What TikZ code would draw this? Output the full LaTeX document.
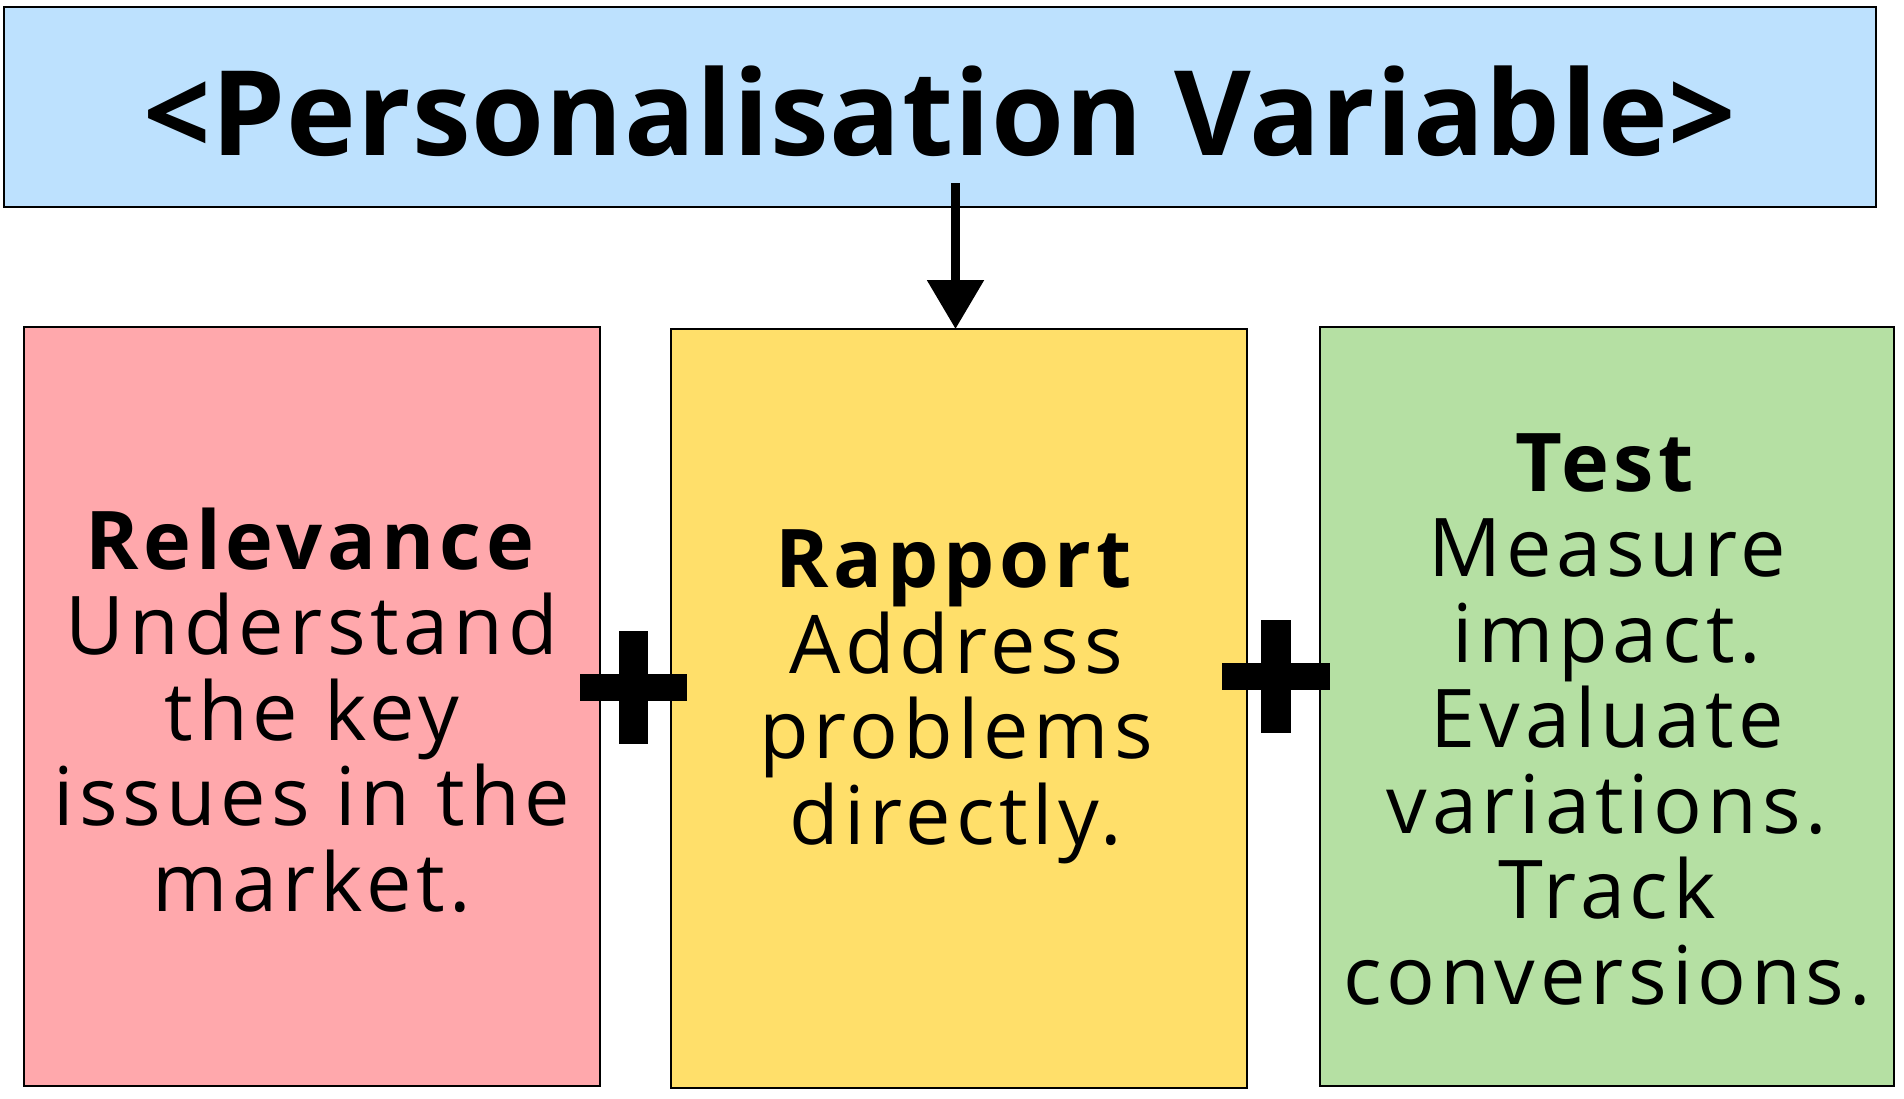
\documentclass[tikz,border=0pt]{standalone}
\usepackage{fontspec}
\setmainfont[LetterSpace=6]{Open Sans}
\newfontfamily\titlefont[LetterSpace=0.8]{Open Sans}
\usetikzlibrary{arrows.meta}
\definecolor{topblue}{RGB}{189,225,254}
\definecolor{relred}{RGB}{255,168,172}
\definecolor{rapyel}{RGB}{255,223,106}
\definecolor{testgrn}{RGB}{181,224,163}
\begin{document}
\begin{tikzpicture}[x=1pt,y=-1pt,
  panel/.style={draw=black,line width=2pt,inner sep=0pt,outer sep=0pt},
  bodytext/.style={align=center,inner sep=0pt,font=\fontsize{81}{85.5}\selectfont},
  plusbar/.style={fill=black}]
\useasboundingbox (0,0) rectangle (1904,1098);
% boxes
\node[panel,fill=topblue,minimum width=1872pt,minimum height=200pt] (top) at (940,107) {};
\node[panel,fill=relred,minimum width=576pt,minimum height=759pt] (rel) at (312,706.5) {};
\node[panel,fill=rapyel,minimum width=576pt,minimum height=759pt] (rap) at (959,708.5) {};
\node[panel,fill=testgrn,minimum width=574pt,minimum height=759pt] (tst) at (1607,706.5) {};
% texts
\node[anchor=base,inner sep=0pt,font=\titlefont\fontsize{118}{130}\selectfont\bfseries] (title) at (940,155) {<Personalisation Variable>};
\node[bodytext] (reltext) at (312,710) {\textbf{Relevance}\\Understand\\the key\\issues in the\\market.};
\node[bodytext] (raptext) at (956,697) {\textbf{Rapport}\\Address\\problems\\directly.};
\node[bodytext] (tsttext) at (1607,719.5) {\textbf{Test}\\Measure\\impact.\\Evaluate\\variations.\\Track\\conversions.};
% arrow
\coordinate (astart) at (955.5,183);
\draw[line width=9pt,-{Triangle[length=49pt,width=55pt]}] (astart) -- (rap.north -| astart);
% plus signs
\fill[plusbar] (580,674) rectangle (687,701);
\fill[plusbar] (619,631) rectangle (648,744);
\fill[plusbar] (1222,663) rectangle (1330,690);
\fill[plusbar] (1261,620) rectangle (1291,733);
\end{tikzpicture}
\end{document}
